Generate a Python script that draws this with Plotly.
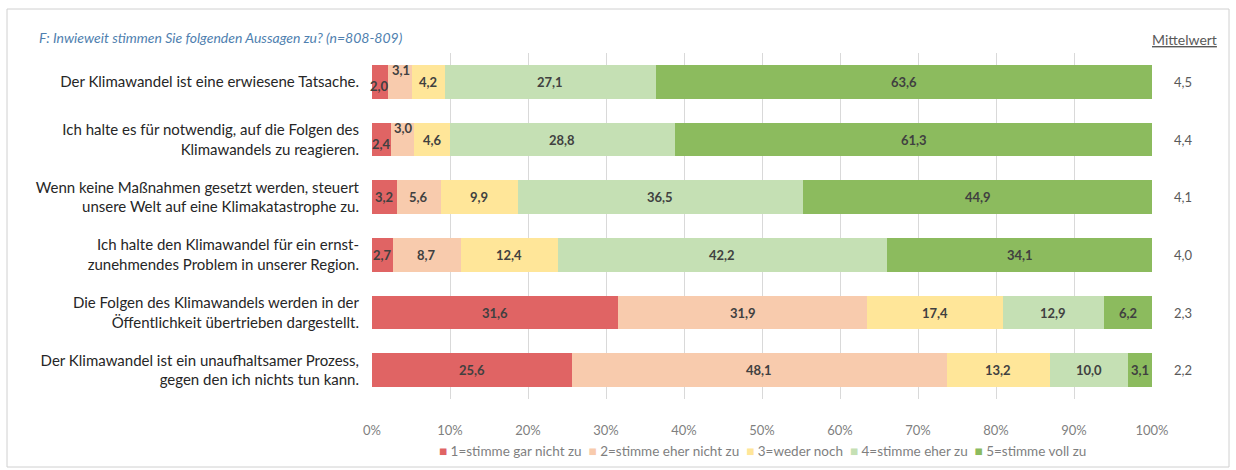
import plotly.graph_objects as go

# ---------------- data ----------------
statements = [
    "Der Klimawandel ist eine erwiesene Tatsache.",
    "Ich halte es für notwendig, auf die Folgen des<br>Klimawandels zu reagieren.",
    "Wenn keine Maßnahmen gesetzt werden, steuert<br>unsere Welt auf eine Klimakatastrophe zu.",
    "Ich halte den Klimawandel für ein ernst-<br>zunehmendes Problem in unserer Region.",
    "Die Folgen des Klimawandels werden in der<br>Öffentlichkeit übertrieben dargestellt.",
    "Der Klimawandel ist ein unaufhaltsamer Prozess,<br>gegen den ich nichts tun kann.",
]
series_names = [
    "1=stimme gar nicht zu",
    "2=stimme eher nicht zu",
    "3=weder noch",
    "4=stimme eher zu",
    "5=stimme voll zu",
]
s1 = [2.0, 2.4, 3.2, 2.7, 31.6, 25.6]
s2 = [3.1, 3.0, 5.6, 8.7, 31.9, 48.1]
s3 = [4.2, 4.6, 9.9, 12.4, 17.4, 13.2]
s4 = [27.1, 28.8, 36.5, 42.2, 12.9, 10.0]
s5 = [63.6, 61.3, 44.9, 34.1, 6.2, 3.1]
means = ["4,5", "4,4", "4,1", "4,0", "2,3", "2,2"]
x_tickvals = [0, 10, 20, 30, 40, 50, 60, 70, 80, 90, 100]
x_ticktext = ["0%", "10%", "20%", "30%", "40%", "50%", "60%", "70%", "80%", "90%", "100%"]

colors = ["#E06464", "#F8CBAD", "#FFE699", "#C5E0B4", "#8CBB5E"]
series = [s1, s2, s3, s4, s5]

# ---------------- layout geometry ----------------
W, H = 1236, 470
L, R, T, B = 372, 84, 53, 71
pw, ph = W - L - R, H - T - B


def px2x(px):
    return (px - L) / pw


def py2y(py):
    return 1 - (py - T) / ph


FONT = "Lato"
ypos = list(range(len(statements)))

fig = go.Figure()
for name, vals, col in zip(series_names, series, colors):
    fig.add_trace(go.Bar(
        x=vals, y=ypos, orientation="h", name=name,
        marker=dict(color=col, line=dict(width=0)),
        hoverinfo="x+name", showlegend=False,
    ))

annotations = []
# in-bar value labels
for i in range(len(statements)):
    start = 0.0
    for k, vals in enumerate(series):
        v = vals[i]
        center = start + v / 2
        yshift = 0
        xshift = 0
        if v < 4 and i < 2:
            if k == 0:
                yshift = -4
            elif k == 1:
                yshift = 12
                xshift = 1
        annotations.append(dict(
            x=center, y=i, xref="x", yref="y", showarrow=False,
            text=f"{v:.1f}".replace(".", ","),
            font=dict(family=FONT, size=13, color="#404040", weight="bold"),
            yshift=yshift, xshift=xshift,
        ))
        start += v
    # Mittelwert values
    annotations.append(dict(
        x=px2x(1172), y=i, xref="paper", yref="y", showarrow=False,
        xanchor="left", text=means[i],
        font=dict(family=FONT, size=13, color="#595959"),
    ))

annotations.append(dict(
    x=px2x(37), y=py2y(38), xref="paper", yref="paper", showarrow=False,
    xanchor="left", yanchor="middle",
    text="<i>F: Inwieweit stimmen Sie folgenden Aussagen zu? (n=808-809)</i>",
    font=dict(family=FONT, size=14, color="#4F7FAF"),
))
annotations.append(dict(
    x=px2x(1150), y=py2y(39), xref="paper", yref="paper", showarrow=False,
    xanchor="left", yanchor="middle",
    text="<u>Mittelwert</u>",
    font=dict(family=FONT, size=14, color="#595959"),
))

# compact legend line (coloured squares + series names)
legend_text = "  ".join(
    f"<span style='color:{c}'>■</span> {n}" for n, c in zip(series_names, colors)
)
annotations.append(dict(
    x=0.5, y=py2y(451), xref="paper", yref="paper", showarrow=False,
    xanchor="center", yanchor="middle", text=legend_text,
    font=dict(family=FONT, size=13.5, color="#7F7F7F"),
))

fig.update_layout(
    width=W, height=H,
    margin=dict(l=L, r=R, t=T, b=B, pad=0),
    barmode="stack", bargap=0.42,
    plot_bgcolor="white", paper_bgcolor="white",
    font=dict(family=FONT),
    xaxis=dict(
        range=[0, 100], tickvals=x_tickvals, ticktext=x_ticktext,
        showgrid=True, gridcolor="#D9D9D9", gridwidth=1,
        zeroline=False, showline=False,
        ticks="outside", ticklen=19, tickcolor="rgba(0,0,0,0)",
        tickfont=dict(family=FONT, size=13, color="#7F7F7F"),
        fixedrange=True,
    ),
    yaxis=dict(
        tickvals=ypos, ticktext=statements, autorange=False,
        range=[len(statements) - 0.5, -0.5],
        showgrid=False, zeroline=False, showline=False,
        ticks="outside", ticklen=9, tickcolor="rgba(0,0,0,0)",
        tickfont=dict(family=FONT, size=15, color="#262626"),
        fixedrange=True,
    ),
    annotations=annotations,
    shapes=[dict(
        type="rect", xref="paper", yref="paper",
        x0=px2x(7), x1=px2x(1229), y0=py2y(467), y1=py2y(9),
        line=dict(color="#D0D0D0", width=1), layer="below",
    )],
    showlegend=False,
)

fig.write_html("out.html")
